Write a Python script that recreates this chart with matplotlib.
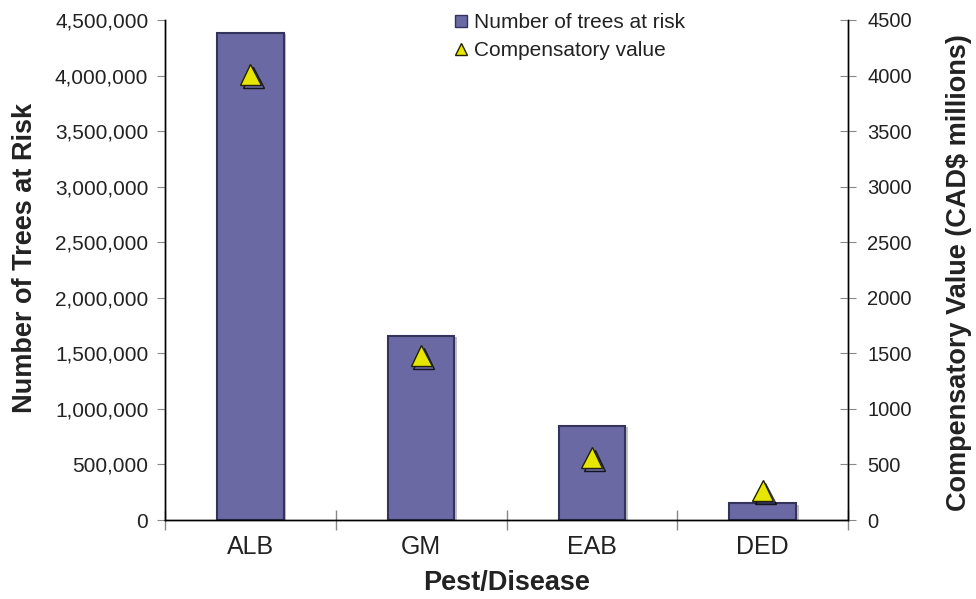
import matplotlib
matplotlib.use("Agg")
import matplotlib.pyplot as plt
import matplotlib.patheffects as pe
from matplotlib.ticker import FuncFormatter, FixedLocator
from matplotlib.lines import Line2D

categories = ["ALB", "GM", "EAB", "DED"]
trees_at_risk = [4385000, 1660000, 846000, 150000]
compensatory_value = [4010, 1480, 560, 265]
left_ticks = [0, 500000, 1000000, 1500000, 2000000, 2500000, 3000000, 3500000, 4000000, 4500000]
right_ticks = [0, 500, 1000, 1500, 2000, 2500, 3000, 3500, 4000, 4500]

plt.rcParams['font.family'] = ['Liberation Sans', 'DejaVu Sans']
text_color = '#222222'

fig = plt.figure(figsize=(9.76, 5.99), dpi=100)
ax = fig.add_axes([165/976, 1 - 520/599, (848-165)/976, (520-20)/599])
ax2 = ax.twinx()

x = list(range(len(categories)))
bar_face = '#6a69a3'
bar_edge = '#34335c'
bars = ax.bar(x, trees_at_risk, width=0.39, color=bar_face, edgecolor=bar_edge,
              linewidth=1.5, zorder=2)
for b in bars:
    b.set_path_effects([pe.SimplePatchShadow(offset=(2, -1), shadow_rgbFace='#999999', alpha=0.6),
                        pe.Normal()])

ax2.plot(x, compensatory_value, linestyle='none', marker='^', markersize=15,
         markerfacecolor='#e6e600', markeredgecolor='#222200', markeredgewidth=1.0,
         zorder=3,
         path_effects=[pe.SimpleLineShadow(offset=(2, -2), shadow_color='black', alpha=0.8),
                       pe.Normal()])

ax.set_xlim(-0.5, 3.5)
ax.set_ylim(0, 4500000)
ax2.set_ylim(0, 4500)

ax.set_yticks(left_ticks)
ax.yaxis.set_major_formatter(FuncFormatter(lambda v, p: f"{int(v):,}"))
ax2.set_yticks(right_ticks)
ax2.set_yticklabels([str(v) for v in right_ticks])

ax.set_xticks(x)
ax.set_xticklabels(categories, fontsize=18, color=text_color)
ax.xaxis.set_minor_locator(FixedLocator([-0.5, 0.5, 1.5, 2.5, 3.5]))
ax.tick_params(axis='x', which='major', length=0, pad=11)
ax.tick_params(axis='x', which='minor', direction='inout', length=15, color='#888888', width=1)
ax.tick_params(axis='y', direction='out', length=6, color='#888888', labelsize=15,
               labelcolor=text_color, pad=6)
ax2.tick_params(axis='y', direction='inout', length=12, color='#888888', labelsize=14.5,
                labelcolor=text_color, pad=8)

for a in (ax, ax2):
    a.spines['top'].set_visible(False)
    for s in ('left', 'right', 'bottom'):
        a.spines[s].set_color('black')
        a.spines[s].set_linewidth(1.0)

ax.set_ylabel("Number of Trees at Risk", fontsize=19.5, fontweight='bold', color=text_color)
ax.yaxis.set_label_coords(-0.186, 0.525)
ax2.set_ylabel("Compensatory Value (CAD$ millions)", fontsize=19.5, fontweight='bold',
               color=text_color)
ax2.yaxis.set_label_coords(1.143, 0.494)
ax.set_xlabel("Pest/Disease", fontsize=19.5, fontweight='bold', color=text_color, labelpad=8)

handles = [Line2D([], [], linestyle='none', marker='s', markersize=8, markerfacecolor=bar_face,
                  markeredgecolor=bar_edge),
           Line2D([], [], linestyle='none', marker='^', markersize=9, markerfacecolor='#e6e600',
                  markeredgecolor='#222200')]
leg = fig.legend(handles, ["Number of trees at risk", "Compensatory value"],
                 loc='upper left', bbox_to_anchor=(453/976, 1 - 13/599), frameon=False,
                 fontsize=15, handlelength=0.8, handletextpad=0.2, borderpad=0,
                 borderaxespad=0, labelspacing=0.45)
for t in leg.get_texts():
    t.set_color(text_color)

fig.savefig("out.png", dpi=100)
